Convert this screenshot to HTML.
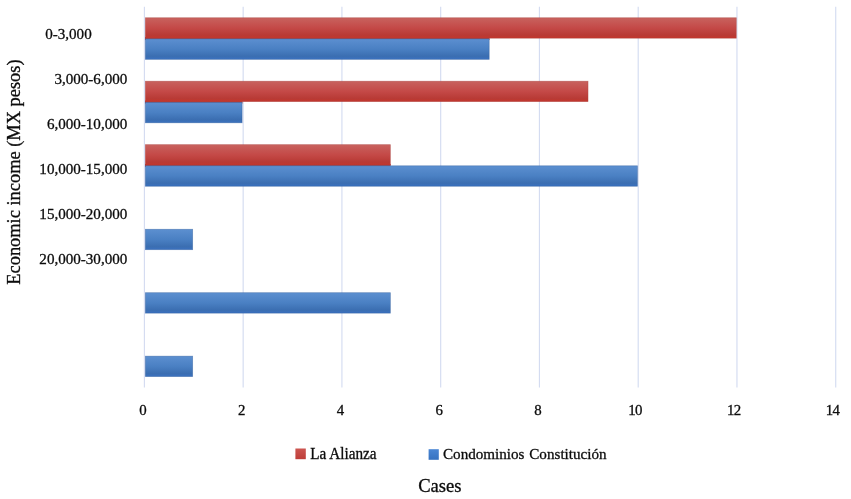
<!DOCTYPE html>
<html><head><meta charset="utf-8"><title>Chart</title>
<style>
html,body{margin:0;padding:0;background:#fff;}
body{width:851px;height:499px;overflow:hidden;position:relative;font-family:"Liberation Serif",serif;color:#111;}
svg{position:absolute;left:0;top:0;display:block;will-change:transform;}
text{font-family:"Liberation Serif",serif;fill:#0c0c0c;stroke:#0c0c0c;stroke-width:0.3px;}
</style></head><body>
<svg width="851" height="499" viewBox="0 0 851 499">
<defs>
<linearGradient id="gr" x1="0" y1="0" x2="0" y2="1">
<stop offset="0" stop-color="#c8625e"/><stop offset="0.5" stop-color="#c44947"/><stop offset="0.85" stop-color="#b83a35"/><stop offset="1" stop-color="#c4362c"/>
</linearGradient>
<linearGradient id="gb" x1="0" y1="0" x2="0" y2="1">
<stop offset="0" stop-color="#5c8fd0"/><stop offset="0.5" stop-color="#4a80c3"/><stop offset="0.85" stop-color="#3b6eb1"/><stop offset="1" stop-color="#3a71c0"/>
</linearGradient>
<linearGradient id="lr" x1="0" y1="0" x2="0" y2="1">
<stop offset="0" stop-color="#cc5550"/><stop offset="1" stop-color="#be3d38"/>
</linearGradient>
<linearGradient id="lb" x1="0" y1="0" x2="0" y2="1">
<stop offset="0" stop-color="#4a86d4"/><stop offset="1" stop-color="#3672c0"/>
</linearGradient>
</defs>
<rect width="851" height="499" fill="#ffffff"/>
<line x1="144.40" y1="6.8" x2="144.40" y2="387.5" stroke="#d4dcf1" stroke-width="1.15"/>
<line x1="243.16" y1="6.8" x2="243.16" y2="387.5" stroke="#d4dcf1" stroke-width="1.15"/>
<line x1="341.92" y1="6.8" x2="341.92" y2="387.5" stroke="#d4dcf1" stroke-width="1.15"/>
<line x1="440.68" y1="6.8" x2="440.68" y2="387.5" stroke="#d4dcf1" stroke-width="1.15"/>
<line x1="539.44" y1="6.8" x2="539.44" y2="387.5" stroke="#d4dcf1" stroke-width="1.15"/>
<line x1="638.20" y1="6.8" x2="638.20" y2="387.5" stroke="#d4dcf1" stroke-width="1.15"/>
<line x1="736.96" y1="6.8" x2="736.96" y2="387.5" stroke="#d4dcf1" stroke-width="1.15"/>
<line x1="835.72" y1="6.8" x2="835.72" y2="387.5" stroke="#d4dcf1" stroke-width="1.15"/>
<rect x="145.0" y="37.05" width="344.54" height="3" fill="#b8403c"/>
<rect x="145.35" y="17.75" width="590.94" height="20.45" fill="url(#gr)" stroke="#a8403c" stroke-opacity="0.55" stroke-width="0.7"/>
<rect x="145.35" y="38.90" width="343.84" height="20.45" fill="url(#gb)" stroke="#2f5c9a" stroke-opacity="0.55" stroke-width="0.7"/>
<rect x="145.0" y="100.50" width="97.44" height="3" fill="#b8403c"/>
<rect x="145.35" y="81.20" width="442.68" height="20.45" fill="url(#gr)" stroke="#a8403c" stroke-opacity="0.55" stroke-width="0.7"/>
<rect x="145.35" y="102.35" width="96.74" height="20.45" fill="url(#gb)" stroke="#2f5c9a" stroke-opacity="0.55" stroke-width="0.7"/>
<rect x="145.0" y="163.95" width="245.70" height="3" fill="#b8403c"/>
<rect x="145.35" y="144.65" width="245.00" height="20.45" fill="url(#gr)" stroke="#a8403c" stroke-opacity="0.55" stroke-width="0.7"/>
<rect x="145.35" y="165.80" width="492.10" height="20.45" fill="url(#gb)" stroke="#2f5c9a" stroke-opacity="0.55" stroke-width="0.7"/>
<rect x="145.35" y="229.25" width="47.32" height="20.45" fill="url(#gb)" stroke="#2f5c9a" stroke-opacity="0.55" stroke-width="0.7"/>
<rect x="145.35" y="292.70" width="245.00" height="20.45" fill="url(#gb)" stroke="#2f5c9a" stroke-opacity="0.55" stroke-width="0.7"/>
<rect x="145.35" y="356.15" width="47.32" height="20.45" fill="url(#gb)" stroke="#2f5c9a" stroke-opacity="0.55" stroke-width="0.7"/>
<text x="91.7" y="39.3" font-size="15.08" text-anchor="end">0-3,000</text>
<text x="127.3" y="84.0" font-size="15.08" text-anchor="end">3,000-6,000</text>
<text x="127.3" y="128.6" font-size="15.08" text-anchor="end">6,000-10,000</text>
<text x="127.3" y="174.0" font-size="15.08" text-anchor="end">10,000-15,000</text>
<text x="127.3" y="218.9" font-size="15.08" text-anchor="end">15,000-20,000</text>
<text x="127.3" y="264.0" font-size="15.08" text-anchor="end">20,000-30,000</text>
<text x="142.90" y="415.45" font-size="14.85" text-anchor="middle">0</text>
<text x="241.66" y="415.45" font-size="14.85" text-anchor="middle">2</text>
<text x="340.42" y="415.45" font-size="14.85" text-anchor="middle">4</text>
<text x="439.18" y="415.45" font-size="14.85" text-anchor="middle">6</text>
<text x="537.94" y="415.45" font-size="14.85" text-anchor="middle">8</text>
<text x="635.00" y="415.45" font-size="14.85" text-anchor="middle" letter-spacing="-0.7">10</text>
<text x="733.76" y="415.45" font-size="14.85" text-anchor="middle" letter-spacing="-0.7">12</text>
<text x="832.52" y="415.45" font-size="14.85" text-anchor="middle" letter-spacing="-0.7">14</text>
<text transform="translate(19.9,284.7) rotate(-90) scale(1,1.05)" font-size="18.4" x="0" y="0">Economic income (MX pesos)</text>
<rect x="295.4" y="448.5" width="10.4" height="10.7" fill="url(#lr)"/>
<text transform="translate(310.2,458.7) scale(1,1.035)" font-size="15.25">La Alianza</text>
<rect x="428.6" y="449.2" width="10.2" height="10.6" fill="url(#lb)"/>
<text transform="translate(443.0,458.9) scale(1,1.025)" font-size="15.13" word-spacing="1">Condominios Constitución</text>
<text transform="translate(418.2,491.6) scale(1,0.975)" font-size="18.6">Cases</text>
</svg>
</body></html>
